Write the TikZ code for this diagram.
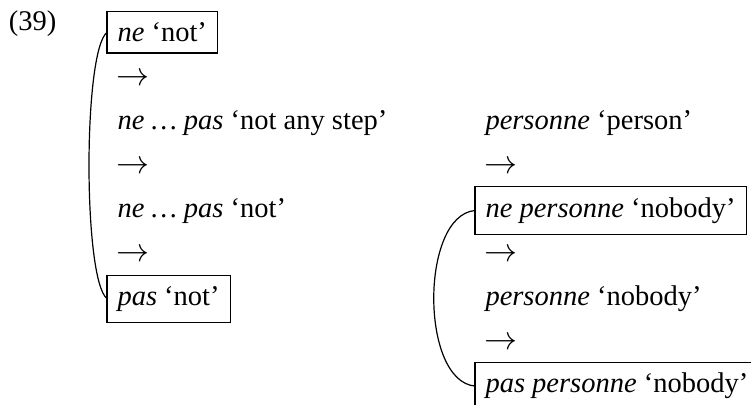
\documentclass[tikz,border=0pt]{standalone}
\usepackage{graphicx}
\usepackage{fontspec}
\setmainfont{Liberation Serif}

% a step arrow a little over one em long at the example's type size
\newcommand{\steparrow}{\resizebox{33pt}{!}{$\rightarrow$}}

\tikzset{
  ex/.style={font=\fontsize{28.5}{34}\selectfont, inner xsep=10.5pt, inner ysep=11pt,
             outer sep=0pt, anchor=base west},
  framed/.style={ex, draw, line width=1.2pt},
  brace/.style={line width=1.2pt},
}

\begin{document}
\begin{tikzpicture}[x=1pt, y=-1pt]
\useasboundingbox (0,0) rectangle (751,404);

% example number
\node[ex, inner sep=0pt] (num) at (9,31) {(39)};

% first chain: ne > ne ... pas > pas
\node[framed] (l0) at (107,41.7)  {\textit{ne} ‘not’};
\node[ex]     (l1) at (106,85.6)  {\steparrow};
\node[ex]     (l2) at (107,129.5) {\textit{ne … pas} ‘not any step’};
\node[ex]     (l3) at (106,173.4) {\steparrow};
\node[ex]     (l4) at (107,217.3) {\textit{ne … pas} ‘not’};
\node[ex]     (l5) at (106,261.2) {\steparrow};
\node[framed] (l6) at (107,305.1) {\textit{pas} ‘not’};

% second chain: personne > ne personne > personne > pas personne
\node[ex]     (r0) at (475,129.5) {\textit{personne} ‘person’};
\node[ex]     (r1) at (474,173.4) {\steparrow};
\node[framed] (r2) at (475,217.3) {\textit{ne personne} ‘nobody’};
\node[ex]     (r3) at (474,261.2) {\steparrow};
\node[ex]     (r4) at (475,305.1) {\textit{personne} ‘nobody’};
\node[ex]     (r5) at (474,349.0) {\steparrow};
\node[framed] (r6) at (475,392.9) {\textit{pas personne} ‘nobody’};

% brackets linking the framed forms
\draw[brace] (l0.west) .. controls +(-24,19) and +(-24,-19) .. (l6.west);
\draw[brace] (r2.west) .. controls +(-55,5) and +(-55,-5) .. (r6.west);
\end{tikzpicture}
\end{document}
